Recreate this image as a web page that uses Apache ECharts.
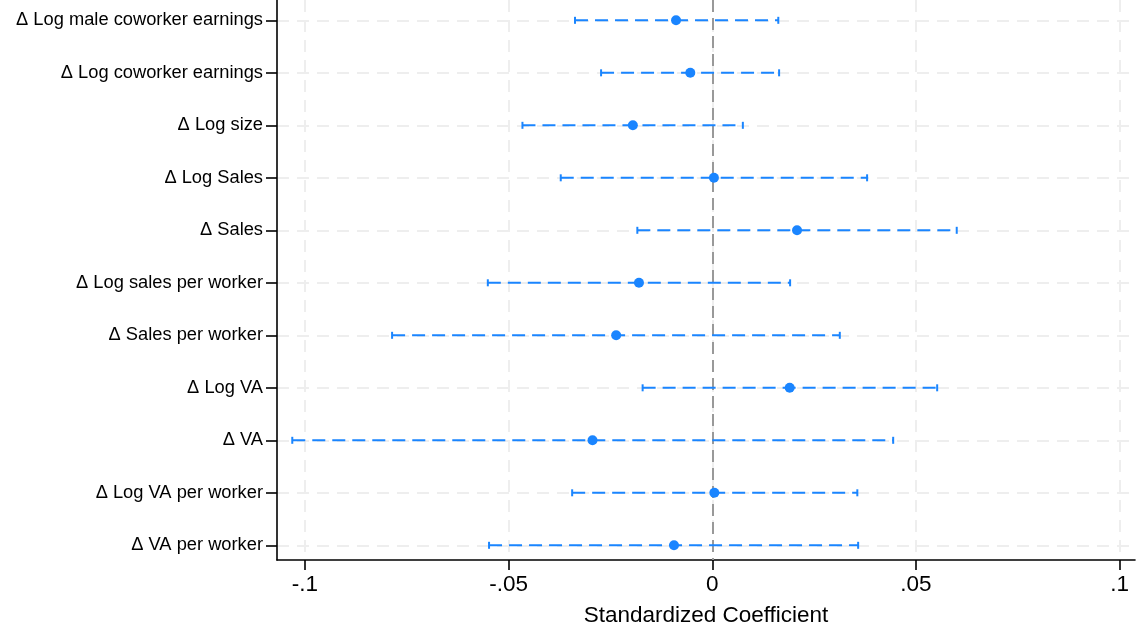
<!DOCTYPE html>
<html>
<head>
<meta charset="utf-8">
<script src="https://cdn.jsdelivr.net/npm/echarts@6/dist/echarts.min.js"></script>
<style>
html,body{margin:0;padding:0;background:#fff;}
#chart{width:1137px;height:628px;}
</style>
</head>
<body>
<div id="chart"></div>
<script>
const categories = [
  "Δ Log male coworker earnings",
  "Δ Log coworker earnings",
  "Δ Log size",
  "Δ Log Sales",
  "Δ Sales",
  "Δ Log sales per worker",
  "Δ Sales per worker",
  "Δ Log VA",
  "Δ VA",
  "Δ Log VA per worker",
  "Δ VA per worker"
];
const coef  = [-0.0089, -0.0054, -0.0195, 0.0004, 0.0208, -0.0180, -0.0236, 0.0190, -0.0294, 0.0005, -0.0094];
const lower = [-0.0337, -0.0273, -0.0466, -0.0372, -0.0184, -0.0551, -0.0786, -0.0171, -0.1031, -0.0344, -0.0548];
const upper = [0.0162, 0.0164, 0.0075, 0.0380, 0.0600, 0.0191, 0.0313, 0.0552, 0.0444, 0.0356, 0.0358];
const xTicks = [-0.1, -0.05, 0, 0.05, 0.1];
const xTickLabels = ["-.1", "-.05", "0", ".05", ".1"];

const rowIdx = categories.map((c, i) => i + 1);
const BLUE = '#1a85ff';
const FONT = '"Liberation Sans", Arial, sans-serif';

const ciData = categories.map((c, i) => [lower[i], upper[i], i + 1]);
const ptData = categories.map((c, i) => [coef[i], i + 1]);

const chart = echarts.init(document.getElementById('chart'), null, {renderer: 'canvas'});
chart.setOption({
  backgroundColor: '#fff',
  animation: false,
  grid: {left: 277, right: 2, top: 0, bottom: 68, containLabel: false, outerBoundsMode: 'none'},
  xAxis: {
    type: 'value',
    min: -0.10685, max: 0.10376,
    name: 'Standardized Coefficient',
    nameLocation: 'middle',
    nameGap: 44,
    nameTextStyle: {fontFamily: FONT, fontSize: 22.5, color: '#000'},
    axisLine: {show: true, onZero: false, lineStyle: {color: '#000', width: 1.6}},
    axisTick: {show: true, customValues: xTicks, length: 10, lineStyle: {color: '#000', width: 1.6}},
    axisLabel: {customValues: xTicks, margin: 13, fontFamily: FONT, fontSize: 22.5, color: '#000',
      formatter: v => { const k = xTicks.findIndex(t => Math.abs(t - v) < 1e-9); return k >= 0 ? xTickLabels[k] : ''; }},
    splitLine: {show: true, lineStyle: {color: '#eeeeee', width: 2, type: [12, 8]}}
  },
  yAxis: {
    type: 'value',
    inverse: true,
    min: 0.613, max: 11.28,
    axisLine: {show: true, onZero: false, lineStyle: {color: '#000', width: 1.6}},
    axisTick: {show: true, customValues: rowIdx, length: 11, lineStyle: {color: '#000', width: 1.6}},
    axisLabel: {customValues: rowIdx, margin: 14, fontFamily: FONT, fontSize: 18.3, color: '#000',
      formatter: v => categories[Math.round(v) - 1] || ''},
    splitLine: {show: true, lineStyle: {color: '#eeeeee', width: 2, type: [12, 8]}}
  },
  series: [
    {
      type: 'custom',
      data: ciData,
      encode: {x: [0, 1], y: 2},
      z: 3,
      renderItem: function (params, api) {
        const y = api.value(2);
        const p1 = api.coord([api.value(0), y]);
        const p2 = api.coord([api.value(1), y]);
        const h = 3.5;
        const st = {stroke: BLUE, lineWidth: 2, fill: null};
        return {
          type: 'group',
          children: [
            {type: 'line', shape: {x1: p1[0], y1: p1[1], x2: p2[0], y2: p2[1]},
             style: {stroke: BLUE, lineWidth: 2, lineDash: [13, 7]}},
            {type: 'line', shape: {x1: p1[0], y1: p1[1] - h, x2: p1[0], y2: p1[1] + h}, style: st},
            {type: 'line', shape: {x1: p2[0], y1: p2[1] - h, x2: p2[0], y2: p2[1] + h}, style: st}
          ]
        };
      }
    },
    {
      type: 'scatter',
      data: ptData,
      symbol: 'circle',
      symbolSize: 10,
      itemStyle: {color: BLUE, opacity: 1},
      z: 4,
      markLine: {
        silent: true,
        symbol: 'none',
        label: {show: false},
        lineStyle: {color: '#999999', width: 2, type: [12, 6]},
        data: [{xAxis: 0}],
        z: 2
      }
    }
  ]
});
</script>
</body>
</html>
